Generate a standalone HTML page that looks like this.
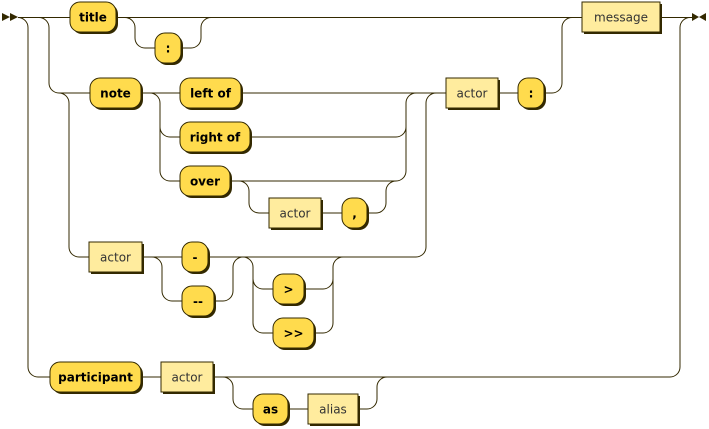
<!DOCTYPE html>
<html><head><meta charset="utf-8"><style>
html,body{margin:0;padding:0;background:#fff;}
svg{display:block}
.l{fill:none;stroke:#332900;stroke-width:1}
.t{fill:#FFDB4D;stroke:#332900;stroke-width:1}
.n{fill:#FFEC9E;stroke:#332900;stroke-width:1}
.s{fill:#332900}
text{font-family:"DejaVu Sans","Liberation Sans",sans-serif;fill:#000;text-anchor:middle}
.tt{font-size:12px;font-weight:bold}
.nt{font-size:12px;fill:#333}
</style></head><body>
<svg width="709" height="429" viewBox="0 0 709 429" xmlns="http://www.w3.org/2000/svg">
<polygon class="s" points="2,13 10,17 2,21"/><polygon class="s" points="10,13 18,17 10,21"/>
<polygon class="s" points="692,13 699,17 692,21"/><polygon class="s" points="706,13 699,17 706,21"/>
<g class="l">
<path d="M18 17.5 H70 M116 17.5 H582 M660 17.5 H692"/>
<path d="M125 17.5 a10 10 0 0 1 10 10 V38 a10 10 0 0 0 10 10 H155 M181 48 H191 a10 10 0 0 0 10 -10 V27.5 a10 10 0 0 1 10 -10"/>
<path d="M18 17.5 a10 10 0 0 1 10 10 V367 a10 10 0 0 0 10 10 H50"/>
<path d="M39 17.5 a10 10 0 0 1 10 10 V83 a10 10 0 0 0 10 10 H90"/>
<path d="M59 93 a10 10 0 0 1 10 10 V247 a10 10 0 0 0 10 10 H89"/>
<path d="M141 93 H180 M150 93 a10 10 0 0 1 10 10 V171 a10 10 0 0 0 10 10 H180 M160 127 a10 10 0 0 0 10 10 H180"/>
<path d="M241 93 H446 M250 137 H396 a10 10 0 0 0 10 -10 V103 a10 10 0 0 1 10 -10 M230 181 H396 a10 10 0 0 0 10 -10 V127"/>
<path d="M230 181 H239 a10 10 0 0 1 10 10 V203 a10 10 0 0 0 10 10 H269 M321 213 H342 M367 213 H376 a10 10 0 0 0 10 -10 V191 a10 10 0 0 1 10 -10"/>
<path d="M498 93 H518 M544 93 H552 a10 10 0 0 0 10 -10 V27.5 a10 10 0 0 1 10 -10"/>
<path d="M142 257 H182 M208 257 H416 a10 10 0 0 0 10 -10 V103 a10 10 0 0 1 10 -10"/>
<path d="M152 257 a10 10 0 0 1 10 10 V291 a10 10 0 0 0 10 10 H182 M214 301 H223 a10 10 0 0 0 10 -10 V267 a10 10 0 0 1 10 -10"/>
<path d="M243 257 a10 10 0 0 1 10 10 V323 a10 10 0 0 0 10 10 H273 M253 279 a10 10 0 0 0 10 10 H273 M304 289 H323 a10 10 0 0 0 10 -10 V267 a10 10 0 0 1 10 -10 M314 333 H323 a10 10 0 0 0 10 -10 V267"/>
<path d="M141 377 H161 M213 377 H670 a10 10 0 0 0 10 -10 V27.5 a10 10 0 0 1 10 -10"/>
<path d="M223 377 a10 10 0 0 1 10 10 V399 a10 10 0 0 0 10 10 H253 M288 409 H308 M358 409 H367 a10 10 0 0 0 10 -10 V387 a10 10 0 0 1 10 -10"/>
</g>
<g>
<rect class="s" x="72" y="4" width="46" height="30" rx="10"/><rect class="t" x="70" y="2" width="46" height="30" rx="10"/><text class="tt" x="93" y="21.5">title</text>
<rect class="s" x="157" y="35" width="26" height="30" rx="10"/><rect class="t" x="155" y="33" width="26" height="30" rx="10"/><text class="tt" x="168" y="52.5">:</text>
<rect class="s" x="92" y="80" width="51" height="30" rx="10"/><rect class="t" x="90" y="78" width="51" height="30" rx="10"/><text class="tt" x="115.5" y="97.5">note</text>
<rect class="s" x="182" y="80" width="61" height="30" rx="10"/><rect class="t" x="180" y="78" width="61" height="30" rx="10"/><text class="tt" x="210.5" y="97.5">left of</text>
<rect class="s" x="182" y="124" width="70" height="30" rx="10"/><rect class="t" x="180" y="122" width="70" height="30" rx="10"/><text class="tt" x="215" y="141.5">right of</text>
<rect class="s" x="182" y="168" width="50" height="30" rx="10"/><rect class="t" x="180" y="166" width="50" height="30" rx="10"/><text class="tt" x="205" y="185.5">over</text>
<rect class="s" x="344" y="200" width="25" height="30" rx="10"/><rect class="t" x="342" y="198" width="25" height="30" rx="10"/><text class="tt" x="354.5" y="217.5">,</text>
<rect class="s" x="520" y="80" width="26" height="30" rx="10"/><rect class="t" x="518" y="78" width="26" height="30" rx="10"/><text class="tt" x="531" y="97.5">:</text>
<rect class="s" x="184" y="244" width="26" height="30" rx="10"/><rect class="t" x="182" y="242" width="26" height="30" rx="10"/><text class="tt" x="195" y="261.5">-</text>
<rect class="s" x="184" y="288" width="32" height="30" rx="10"/><rect class="t" x="182" y="286" width="32" height="30" rx="10"/><text class="tt" x="198" y="305.5">--</text>
<rect class="s" x="275" y="276" width="31" height="30" rx="10"/><rect class="t" x="273" y="274" width="31" height="30" rx="10"/><text class="tt" x="288.5" y="293.5">&gt;</text>
<rect class="s" x="275" y="320" width="41" height="30" rx="10"/><rect class="t" x="273" y="318" width="41" height="30" rx="10"/><text class="tt" x="293.5" y="337.5">&gt;&gt;</text>
<rect class="s" x="52" y="364" width="91" height="30" rx="10"/><rect class="t" x="50" y="362" width="91" height="30" rx="10"/><text class="tt" x="95.5" y="381.5">participant</text>
<rect class="s" x="255" y="396" width="35" height="30" rx="10"/><rect class="t" x="253" y="394" width="35" height="30" rx="10"/><text class="tt" x="270.5" y="413.5">as</text>
</g>
<g>
<rect class="s" x="584" y="4" width="78" height="30"/><rect class="n" x="582" y="2" width="78" height="30"/><text class="nt" x="621" y="21.5">message</text>
<rect class="s" x="271" y="200" width="52" height="30"/><rect class="n" x="269" y="198" width="52" height="30"/><text class="nt" x="295" y="217.5">actor</text>
<rect class="s" x="448" y="80" width="52" height="30"/><rect class="n" x="446" y="78" width="52" height="30"/><text class="nt" x="472" y="97.5">actor</text>
<rect class="s" x="91" y="244" width="53" height="30"/><rect class="n" x="89" y="242" width="53" height="30"/><text class="nt" x="115.5" y="261.5">actor</text>
<rect class="s" x="163" y="364" width="52" height="30"/><rect class="n" x="161" y="362" width="52" height="30"/><text class="nt" x="187" y="381.5">actor</text>
<rect class="s" x="310" y="396" width="50" height="30"/><rect class="n" x="308" y="394" width="50" height="30"/><text class="nt" x="333" y="413.5">alias</text>
</g>
</svg>
</body></html>
